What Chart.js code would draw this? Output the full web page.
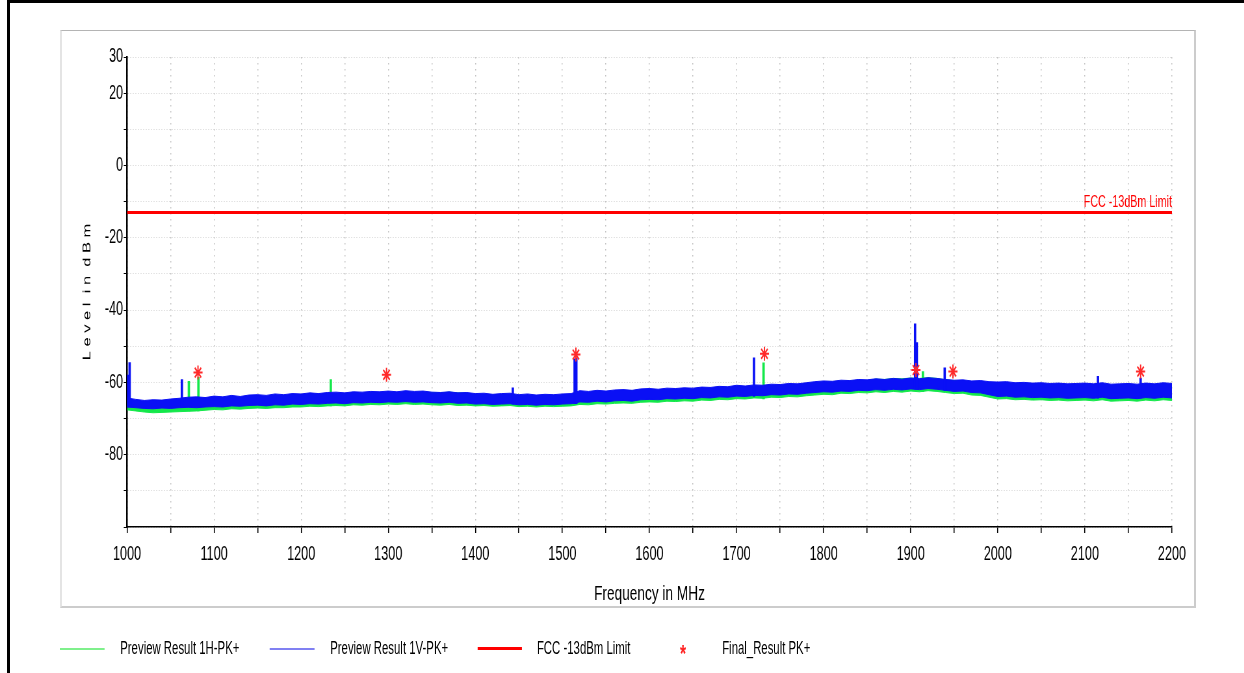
<!DOCTYPE html>
<html>
<head>
<meta charset="utf-8">
<script src="https://cdn.jsdelivr.net/npm/chart.js@4.4.1/dist/chart.umd.min.js"></script>
<style>
    html, body { margin: 0; padding: 0; background: #fff; }
    body { width: 1244px; height: 673px; position: relative; overflow: hidden; }
    #frame { position: absolute; left: 7px; top: 0; width: 1237px; height: 673px; box-sizing: border-box;
             border-left: 3px solid #000; border-top: 3px solid #000; }
    #panel { position: absolute; left: 60px; top: 30px; width: 1136px; height: 578px; box-sizing: border-box;
             border-top: 1px solid #b4b4b4; border-left: 2px solid #e4e4e4; border-right: 2px solid #cccccc; border-bottom: 2px solid #cccccc; }
    /* the source picture is squeezed horizontally, so draw wide and squeeze */
    #wrap { position: absolute; left: 0; top: 0; width: 1914px; height: 673px; transform: scaleX(0.65); transform-origin: 0 0; }
    #chart { position: absolute; left: 0; top: 0; }
    .legLine { position: absolute; height: 2px; top: 648px; }
    .legText { position: absolute; top: 638px; line-height: 22px; font: 17.5px "Liberation Sans", Arial, sans-serif; color: #000; white-space: nowrap; }
</style>
</head>
<body>
<div id="frame"></div>
<div id="panel"></div>
<div id="wrap">
    <canvas id="chart" width="1914" height="673" style="width:1914px;height:673px"></canvas>
    <div class="legLine" style="left:92px;width:69px;background:#7ff08c"></div>
    <div class="legText" style="left:185px">Preview Result 1H-PK+</div>
    <div class="legLine" style="left:415px;width:69px;background:#8080f2"></div>
    <div class="legText" style="left:508px">Preview Result 1V-PK+</div>
    <div class="legLine" style="left:735px;width:68px;height:3px;top:647px;background:#ff0000"></div>
    <div class="legText" style="left:826px">FCC -13dBm Limit</div>
    <div class="legText" style="left:1046px;color:#ff2020;font:bold 24px 'Liberation Sans';top:640px">*</div>
    <div class="legText" style="left:1111px">Final_Result PK+</div>
</div>

<script>
// --- DATOS ---
const freqs = [
    1000, 1010, 1020, 1030, 1040, 1050, 1060, 1070, 1080, 1090,
    1100, 1110, 1120, 1130, 1140, 1150, 1160, 1170, 1180, 1190,
    1200, 1210, 1220, 1230, 1240, 1250, 1260, 1270, 1280, 1290,
    1300, 1310, 1320, 1330, 1340, 1350, 1360, 1370, 1380, 1390,
    1400, 1410, 1420, 1430, 1440, 1450, 1460, 1470, 1480, 1490,
    1500, 1510, 1520, 1530, 1540, 1550, 1560, 1570, 1580, 1590,
    1600, 1610, 1620, 1630, 1640, 1650, 1660, 1670, 1680, 1690,
    1700, 1710, 1720, 1730, 1740, 1750, 1760, 1770, 1780, 1790,
    1800, 1810, 1820, 1830, 1840, 1850, 1860, 1870, 1880, 1890,
    1900, 1910, 1920, 1930, 1940, 1950, 1960, 1970, 1980, 1990,
    2000, 2010, 2020, 2030, 2040, 2050, 2060, 2070, 2080, 2090,
    2100, 2110, 2120, 2130, 2140, 2150, 2160, 2170, 2180, 2190,
    2200
];

// Preview Result 1V-PK+ (blue): upper / lower edge of the noise band, dBm
const blueHi = [
    -64.3, -64.7, -65.0, -64.8, -64.9, -64.6, -64.4, -64.1, -64.0, -64.2,
    -63.8, -64.0, -63.6, -63.9, -63.5, -63.4, -63.6, -63.2, -63.4, -63.1,
    -63.2, -62.9, -63.1, -62.8, -62.7, -62.9, -62.6, -62.7, -62.5, -62.6,
    -62.4, -62.6, -62.3, -62.5, -62.4, -62.7, -62.8, -62.6, -62.9, -62.8,
    -63.1, -63.0, -63.3, -63.1, -63.0, -63.4, -63.2, -63.5, -63.3, -63.4,
    -63.2, -63.1, -62.3, -62.5, -62.2, -62.4, -62.1, -62.0, -62.2, -61.8,
    -61.7, -61.9, -61.6, -61.7, -61.5, -61.6, -61.3, -61.4, -61.1, -61.2,
    -60.8, -61.0, -60.7, -60.8, -60.5, -60.6, -60.3, -60.4, -60.1, -59.8,
    -59.6, -59.7, -59.4, -59.5, -59.2, -59.3, -59.0, -59.2, -58.9, -59.1,
    -58.8, -59.0, -58.7, -58.9, -59.2, -59.4, -59.3, -59.6, -59.5, -59.8,
    -59.9, -59.8, -60.1, -60.0, -60.2, -60.1, -60.3, -60.2, -60.4, -60.3,
    -60.2, -60.4, -60.1, -60.5, -60.4, -60.3, -60.5, -60.2, -60.4, -60.1,
    -60.3
];
const blueLo = [
    -66.8, -67.0, -67.2, -67.3, -67.1, -67.2, -67.0, -66.9, -67.0, -66.8,
    -66.7, -66.8, -66.5, -66.6, -66.4, -66.3, -66.5, -66.2, -66.3, -66.0,
    -66.1, -65.9, -66.0, -65.8, -65.7, -65.9, -65.6, -65.7, -65.5, -65.6,
    -65.4, -65.5, -65.3, -65.5, -65.4, -65.6, -65.7, -65.5, -65.8, -65.7,
    -66.0, -65.9, -66.1, -66.0, -65.9, -66.2, -66.1, -66.3, -66.1, -66.2,
    -66.0, -65.9, -65.4, -65.5, -65.2, -65.4, -65.1, -65.0, -65.2, -64.8,
    -64.7, -64.8, -64.5, -64.6, -64.4, -64.5, -64.2, -64.3, -64.0, -64.1,
    -63.8, -63.9, -63.6, -63.7, -63.4, -63.5, -63.2, -63.3, -63.0, -62.8,
    -62.6, -62.7, -62.4, -62.5, -62.2, -62.3, -62.0, -62.2, -61.9, -62.1,
    -61.8, -62.0, -61.7, -61.9, -62.2, -62.5, -62.4, -62.8, -62.9, -63.4,
    -63.9, -63.8, -64.1, -64.0, -64.2, -64.1, -64.3, -64.2, -64.4, -64.3,
    -64.2, -64.4, -64.1, -64.5, -64.4, -64.3, -64.5, -64.2, -64.4, -64.1,
    -64.3
];

// Preview Result 1H-PK+ (green)
const greenHi = [
    -65.0, -65.3, -65.6, -65.5, -65.5, -65.3, -65.0, -64.8, -64.6, -64.9,
    -64.5, -64.6, -64.3, -64.5, -64.2, -64.0, -64.2, -63.9, -64.0, -63.7,
    -63.8, -63.5, -63.7, -63.4, -63.3, -63.5, -63.2, -63.3, -63.1, -63.2,
    -62.8, -62.9, -62.6, -62.8, -62.7, -62.8, -62.9, -62.7, -62.9, -63.0,
    -63.4, -63.4, -63.6, -63.5, -63.4, -63.8, -63.6, -63.9, -63.7, -63.8,
    -63.6, -63.5, -62.8, -62.9, -62.7, -62.8, -62.5, -62.4, -62.3, -62.1,
    -62.1, -62.3, -62.0, -62.1, -61.9, -62.0, -61.7, -61.8, -61.5, -61.6,
    -61.2, -61.4, -61.1, -61.2, -60.9, -61.0, -60.6, -60.7, -60.3, -60.1,
    -59.9, -60.0, -59.7, -59.7, -59.4, -59.5, -59.1, -59.2, -58.9, -59.0,
    -58.8, -58.9, -58.7, -58.9, -59.3, -59.5, -59.6, -59.9, -59.9, -60.2,
    -60.3, -60.2, -60.5, -60.4, -60.6, -60.5, -60.7, -60.6, -60.8, -60.7,
    -60.6, -60.8, -60.5, -60.9, -60.8, -60.7, -60.9, -60.6, -60.8, -60.5,
    -60.7
];
const greenLo = [
    -67.6, -67.9, -68.2, -68.4, -68.3, -68.2, -68.1, -68.0, -67.9, -67.7,
    -67.5, -67.6, -67.3, -67.4, -67.2, -67.1, -67.2, -67.0, -67.0, -66.8,
    -66.8, -66.6, -66.7, -66.5, -66.4, -66.5, -66.2, -66.3, -66.1, -66.2,
    -66.0, -66.1, -65.9, -66.1, -66.0, -66.2, -66.3, -66.1, -66.4, -66.3,
    -66.5, -66.4, -66.6, -66.5, -66.4, -66.7, -66.6, -66.8, -66.6, -66.7,
    -66.6, -66.5, -66.1, -66.2, -65.9, -66.0, -65.8, -65.7, -65.8, -65.5,
    -65.4, -65.5, -65.2, -65.3, -65.1, -65.2, -64.9, -65.0, -64.7, -64.8,
    -64.5, -64.6, -64.3, -64.4, -64.1, -64.2, -63.9, -64.0, -63.7, -63.5,
    -63.3, -63.4, -63.0, -63.1, -62.8, -62.9, -62.6, -62.8, -62.5, -62.7,
    -62.4, -62.6, -62.3, -62.5, -62.8, -63.1, -63.0, -63.5, -63.6, -64.1,
    -64.6, -64.5, -64.8, -64.7, -64.9, -64.8, -65.0, -64.9, -65.1, -65.0,
    -64.9, -65.1, -64.8, -65.2, -65.1, -65.0, -65.2, -64.9, -65.1, -64.8,
    -65.0
];

// narrow spikes sticking out of the band
const blueSpikeFreq = [1001, 1003, 1063, 1443, 1514, 1516, 1720, 1905, 1907, 1939, 2115, 2164];
const blueSpikeTop  = [-58.0, -54.5, -59.2, -61.5, -53.5, -53.2, -53.2, -43.8, -49.0, -56.0, -58.3, -58.8];
const blueSpikeBase = [-66.8, -66.8, -67.0, -66.0, -65.9, -65.9, -63.9, -61.8, -61.8, -62.2, -64.4, -64.3];

const greenSpikeFreq = [1071, 1082, 1234, 1731, 1914];
const greenSpikeTop  = [-59.7, -58.6, -59.2, -54.6, -57.0];
const greenSpikeBase = [-67.9, -67.9, -66.5, -64.6, -62.6];

const limitFreq = [1000, 2200];
const limitLevel = [-13, -13];

const finalFreq  = [1081.5, 1298, 1515.5, 1732, 1906, 1948.5, 2164];
const finalLevel = [-57.3, -57.9, -52.3, -52.1, -56.6, -57.0, -57.0];

const xTickLabels = [1000, 1100, 1200, 1300, 1400, 1500, 1600, 1700, 1800, 1900, 2000, 2100, 2200];
const yTickLabels = [30, 20, 0, -20, -40, -60, -80];

const GREEN = '#14e84a';
const BLUE = '#0a10f5';
const RED = '#ff0000';

const pts = (xs, ys) => xs.map((x, i) => ({ x: x, y: ys[i] }));
const bars = (xs, lo, hi) => xs.map((x, i) => ({ x: x, y: [lo[i], hi[i]] }));

const limitLabel = {
    id: 'limitLabel',
    afterDatasetsDraw(chart) {
        const { ctx, chartArea, scales } = chart;
        const y = scales.y.getPixelForValue(limitLevel[0]);
        ctx.save();
        ctx.font = '16.5px "Liberation Sans", Arial, sans-serif';
        ctx.fillStyle = RED;
        ctx.textAlign = 'right';
        ctx.textBaseline = 'alphabetic';
        ctx.fillText('FCC -13dBm Limit', chartArea.right, y - 5);
        ctx.restore();
    }
};

const sans = '"Liberation Sans", Arial, sans-serif';

new Chart(document.getElementById('chart'), {
    type: 'line',
    data: {
        datasets: [
            { label: 'Final_Result PK+', data: pts(finalFreq, finalLevel), showLine: false, pointStyle: 'star',
              pointRadius: 7, pointBorderColor: '#ff2a2a', pointBorderWidth: 2, order: 0 },
            { label: 'FCC -13dBm Limit', data: pts(limitFreq, limitLevel), borderColor: RED, borderWidth: 3,
              pointRadius: 0, order: 1 },
            { type: 'bar', label: 'blue spikes', data: bars(blueSpikeFreq, blueSpikeBase, blueSpikeTop),
              backgroundColor: BLUE, barThickness: 3, grouped: false, order: 2 },
            { label: 'Preview Result 1V-PK+', data: pts(freqs, blueHi), borderColor: BLUE, borderWidth: 1,
              pointRadius: 0, fill: false, order: 3 },
            { label: 'blue low', data: pts(freqs, blueLo), borderColor: BLUE, borderWidth: 1,
              backgroundColor: BLUE, pointRadius: 0, fill: '-1', order: 3 },
            { type: 'bar', label: 'green spikes', data: bars(greenSpikeFreq, greenSpikeBase, greenSpikeTop),
              backgroundColor: GREEN, barThickness: 3, grouped: false, order: 5 },
            { label: 'Preview Result 1H-PK+', data: pts(freqs, greenHi), borderColor: GREEN, borderWidth: 1,
              pointRadius: 0, fill: false, order: 6 },
            { label: 'green low', data: pts(freqs, greenLo), borderColor: GREEN, borderWidth: 1,
              backgroundColor: GREEN, pointRadius: 0, fill: '-1', order: 6 }
        ]
    },
    options: {
        responsive: false,
        animation: false,
        devicePixelRatio: 1,
        layout: { padding: { left: 0, top: 57, right: 111, bottom: 66 } },
        plugins: { legend: { display: false }, tooltip: { enabled: false } },
        scales: {
            x: {
                type: 'linear', min: 1000, max: 2200, offset: false,
                afterFit: (s) => { s.height = 80; },
                grid: { color: '#c4c4c4', lineWidth: 1.5, offset: false, tickLength: 6, tickColor: '#000', tickWidth: 1.6 },
                border: { display: true, color: '#000', width: 1.5, dash: [1.5, 4.5] },
                ticks: {
                    stepSize: 50, autoSkip: false, maxRotation: 0, padding: 10, color: '#000',
                    font: { family: sans, size: 19.5 },
                    callback: (v) => xTickLabels.includes(v) ? String(v) : ''
                },
                title: { display: true, text: 'Frequency in MHz', color: '#000',
                         font: { family: sans, size: 21 }, padding: { top: 0, bottom: 0 } }
            },
            y: {
                min: -100, max: 30,
                afterFit: (s) => { s.width = 195.4; },
                grid: { color: '#c4c4c4', lineWidth: 1, tickLength: 5, tickColor: '#000', tickWidth: 1 },
                border: { display: true, color: '#000', width: 2.5, dash: [1, 3] },
                ticks: {
                    stepSize: 10, autoSkip: false, padding: 1, color: '#000',
                    font: { family: sans, size: 19.5 },
                    callback: (v) => yTickLabels.includes(v) ? String(v) : ''
                },
                title: { display: true, text: 'L e v e l  i n  d B m', color: '#000',
                         font: { family: sans, size: 16.5 }, padding: { top: 125, bottom: 0 } }
            }
        }
    },
    plugins: [limitLabel]
});
</script>
</body>
</html>
